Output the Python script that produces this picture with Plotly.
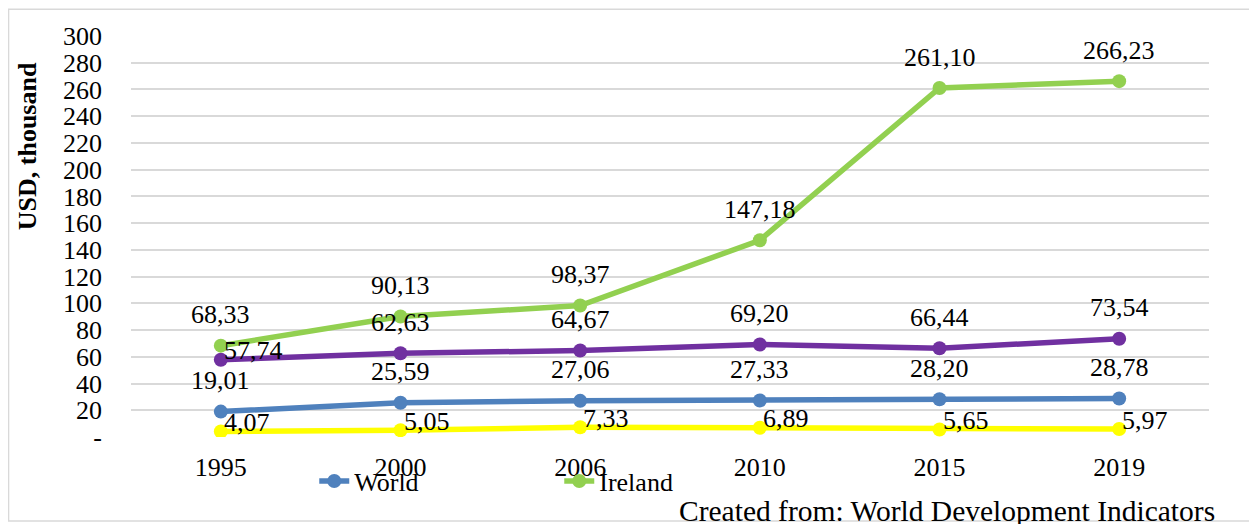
import plotly.graph_objects as go

# data
years = ["1995", "2000", "2006", "2010", "2015", "2019"]
world = [19.01, 25.59, 27.06, 27.33, 28.20, 28.78]
ireland = [68.33, 90.13, 98.37, 147.18, 261.10, 266.23]
series3 = [57.74, 62.63, 64.67, 69.20, 66.44, 73.54]
series4 = [4.07, 5.05, 7.33, 6.89, 5.65, 5.97]

y_ticks = list(range(0, 301, 20))
y_ticktext = ["-"] + [str(v) for v in y_ticks[1:]]

FONT = "Liberation Serif, Times New Roman, serif"

fig = go.Figure()

# (values, name, color, show in legend)
series = [
    (series4, "Series 4", "#FFFF00", False),
    (world, "World", "#4F81BD", True),
    (series3, "Series 3", "#7030A0", False),
    (ireland, "Ireland", "#92D050", True),
]
for vals, name, color, show in series:
    fig.add_trace(go.Scatter(
        x=years, y=vals, name=name, mode="lines+markers",
        line=dict(color=color, width=5.5),
        marker=dict(color=color, size=14),
        showlegend=show,
    ))

# legend order: World then Ireland
fig.data[1].legendrank = 1
fig.data[3].legendrank = 2


def fmt(v):
    return f"{v:.2f}".replace(".", ",")


# data labels (x given as category index: "1995" would be read as index 1995)
for vals, pos in [(ireland, "top"), (world, "top"), (series3, "top"), (series4, "right")]:
    for i, v in enumerate(vals):
        p = pos
        if vals is series3 and i == 0:
            p = "right"
        if p == "top":
            fig.add_annotation(x=i, y=v, text=fmt(v), showarrow=False,
                               xanchor="center", yanchor="middle", yshift=31,
                               font=dict(family=FONT, size=26, color="black"))
        else:
            fig.add_annotation(x=i, y=v, text=fmt(v), showarrow=False,
                               xanchor="left", yanchor="middle", xshift=1, yshift=9,
                               font=dict(family=FONT, size=26, color="black"))

# y axis title
fig.add_annotation(text="<b>USD, thousand</b>", xref="paper", yref="paper",
                   x=-0.0965, y=0.725, textangle=-90, showarrow=False,
                   xanchor="center", yanchor="middle",
                   font=dict(family=FONT, size=26, color="black"))

# source note
fig.add_annotation(text="Created from: World Development Indicators",
                   xref="paper", yref="paper", x=1.0074, y=-0.1845,
                   xanchor="right", yanchor="middle", showarrow=False,
                   font=dict(family=FONT, size=29.5, color="black"))

# chart border
fig.add_shape(type="rect", xref="paper", yref="paper",
              x0=-0.1136, x1=1.06, y0=-0.2095, y1=1.067,
              line=dict(color="#D9D9D9", width=1.5), layer="below")

# page body has an 8px margin, so the figure is laid out 8px up/left
fig.update_layout(
    width=1249, height=516,
    margin=dict(l=123, r=48, t=28, b=87),
    paper_bgcolor="white", plot_bgcolor="white",
    font=dict(family=FONT, size=26, color="black"),
    legend=dict(orientation="h", x=0.170, y=-0.11, xanchor="left", yanchor="middle",
                bgcolor="rgba(0,0,0,0)", entrywidth=200, font=dict(size=26)),
    xaxis=dict(type="category", range=[-0.5, len(years) - 0.5],
               showgrid=False, showline=False, zeroline=False,
               ticks="", ticklabelstandoff=12, tickfont=dict(size=26)),
    yaxis=dict(range=[0, 300], tickvals=y_ticks, ticktext=y_ticktext,
               showgrid=True, gridcolor="#D9D9D9", gridwidth=2,
               zeroline=False, showline=False, ticks="",
               ticklabelstandoff=28, tickfont=dict(size=26)),
)

fig.write_html("out.html")
